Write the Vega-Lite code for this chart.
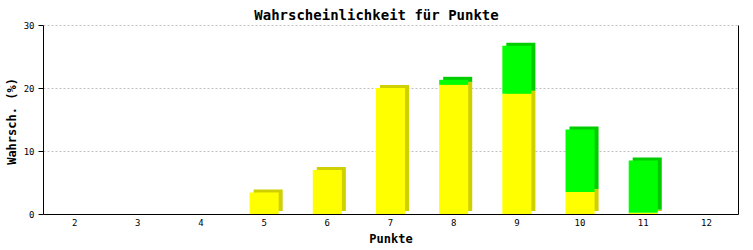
{
  "$schema": "https://vega.github.io/schema/vega-lite/v6.json",
  "width": 695,
  "height": 189,
  "autosize": "none",
  "padding": {"left": 43, "top": 25, "right": 15, "bottom": 36},
  "background": "white",
  "config": {
    "font": "DejaVu Sans Mono",
    "view": {"stroke": null}
  },
  "title": {
    "text": "Wahrscheinlichkeit für Punkte",
    "font": "DejaVu Sans Mono",
    "fontSize": 14,
    "fontWeight": "bold",
    "color": "black",
    "anchor": "middle",
    "frame": "group",
    "dx": -14,
    "dy": 9,
    "offset": 7
  },
  "data": {
    "values": [
      {"punkte": 2, "serie": "Gelb", "wert": 0},
      {"punkte": 2, "serie": "Grün", "wert": 0},
      {"punkte": 3, "serie": "Gelb", "wert": 0},
      {"punkte": 3, "serie": "Grün", "wert": 0},
      {"punkte": 4, "serie": "Gelb", "wert": 0},
      {"punkte": 4, "serie": "Grün", "wert": 0},
      {"punkte": 5, "serie": "Gelb", "wert": 3.4},
      {"punkte": 5, "serie": "Grün", "wert": 0},
      {"punkte": 6, "serie": "Gelb", "wert": 7.0},
      {"punkte": 6, "serie": "Grün", "wert": 0},
      {"punkte": 7, "serie": "Gelb", "wert": 20.0},
      {"punkte": 7, "serie": "Grün", "wert": 0},
      {"punkte": 8, "serie": "Gelb", "wert": 20.5},
      {"punkte": 8, "serie": "Grün", "wert": 0.8},
      {"punkte": 9, "serie": "Gelb", "wert": 19.1},
      {"punkte": 9, "serie": "Grün", "wert": 7.6},
      {"punkte": 10, "serie": "Gelb", "wert": 3.5},
      {"punkte": 10, "serie": "Grün", "wert": 9.9},
      {"punkte": 11, "serie": "Gelb", "wert": 0.2},
      {"punkte": 11, "serie": "Grün", "wert": 8.3},
      {"punkte": 12, "serie": "Gelb", "wert": 0},
      {"punkte": 12, "serie": "Grün", "wert": 0}
    ]
  },
  "encoding": {
    "x": {
      "field": "punkte",
      "type": "ordinal",
      "scale": {"paddingInner": 0.54, "paddingOuter": 0.27},
      "axis": {
        "title": "Punkte",
        "titleFont": "DejaVu Sans Mono",
        "titleFontSize": 12,
        "titleFontWeight": "bold",
        "titleColor": "black",
        "titleX": 347.5,
        "titleY": 24,
        "titleBaseline": "middle",
        "labelAngle": 0,
        "labelFontSize": 9,
        "labelColor": "black",
        "labelPadding": 4,
        "ticks": false,
        "domainColor": "black",
        "domainWidth": 1,
        "grid": false
      }
    },
    "order": {"field": "serie", "sort": "ascending"}
  },
  "layer": [
    {
      "mark": {"type": "bar", "xOffset": 4, "yOffset": -3, "y2Offset": -3},
      "encoding": {
        "y": {
          "field": "wert",
          "type": "quantitative",
          "stack": "zero",
          "scale": {"domain": [0, 30]},
          "axis": {
            "orient": "right",
            "labels": false,
            "ticks": false,
            "grid": false,
            "title": null,
            "domainColor": "black",
            "domainWidth": 1
          }
        },
        "color": {
          "field": "serie",
          "type": "nominal",
          "scale": {"domain": ["Gelb", "Grün"], "range": ["#d0d000", "#00cc00"]},
          "legend": null
        }
      }
    },
    {
      "mark": {"type": "bar"},
      "encoding": {
        "y": {
          "field": "wert",
          "type": "quantitative",
          "stack": "zero",
          "scale": {"domain": [0, 30]},
          "axis": {
            "orient": "left",
            "values": [0, 10, 20, 30],
            "title": "Wahrsch. (%)",
            "titleFont": "DejaVu Sans Mono",
            "titleFontSize": 12,
            "titleFontWeight": "bold",
            "titleColor": "black",
            "titleX": -31.5,
            "titleY": 96,
            "titleAngle": -90,
            "titleAlign": "center",
            "titleBaseline": "middle",
            "labelFontSize": 9,
            "labelColor": "black",
            "labelPadding": 4,
            "tickSize": 5,
            "tickColor": "black",
            "domainColor": "black",
            "domainWidth": 1,
            "grid": true,
            "gridColor": "#c0c0c0",
            "gridDash": [2, 2],
            "gridWidth": 1
          }
        },
        "color": {
          "field": "serie",
          "type": "nominal",
          "scale": {"domain": ["Gelb", "Grün"], "range": ["#ffff00", "#00ff00"]},
          "legend": null
        }
      }
    }
  ],
  "resolve": {"scale": {"color": "independent"}, "axis": {"y": "independent"}}
}
